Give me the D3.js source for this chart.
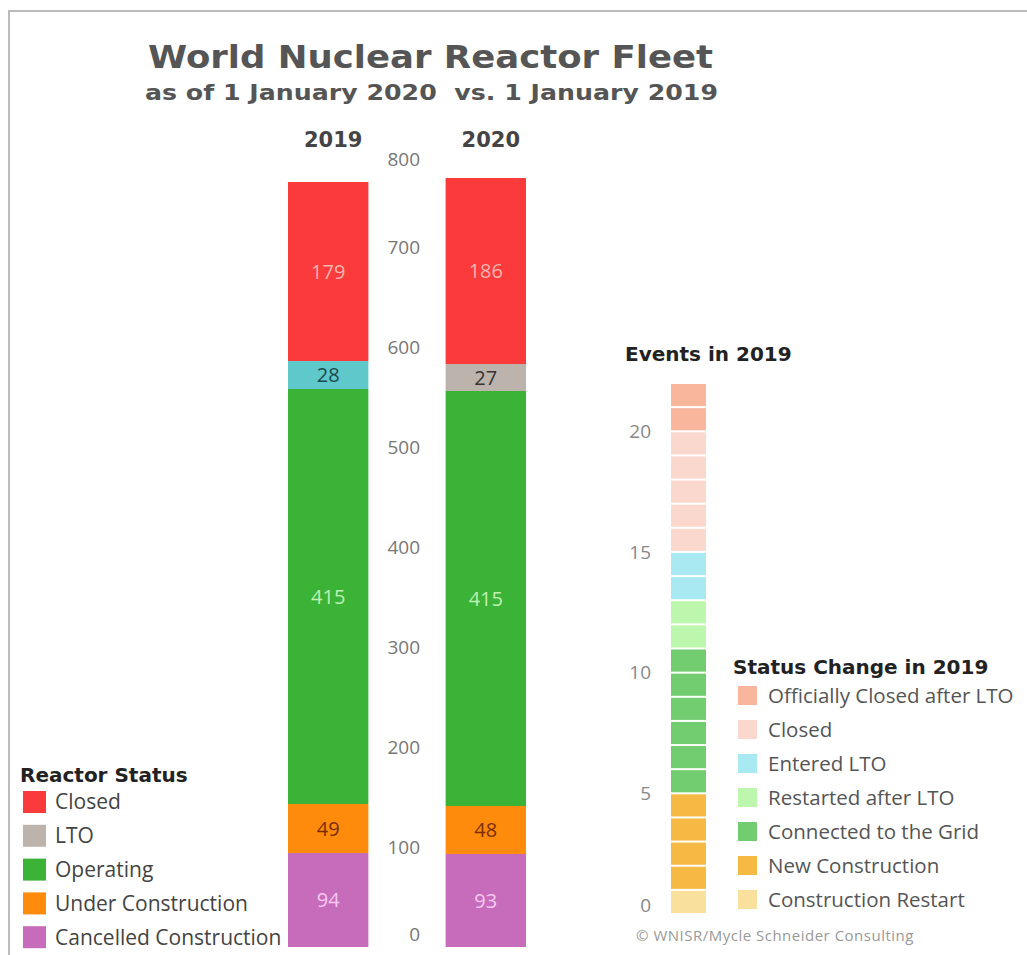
<!DOCTYPE html>
<html>
<head>
<meta charset="utf-8">
<script src="https://cdn.jsdelivr.net/npm/d3@7"></script>
<style>
  body { margin: 0; background: #fff; }
  svg { display: block; }
</style>
</head>
<body>
<svg id="chart" width="1027" height="955"></svg>
<script>
// Reactor fleet data (bottom to top of each stack)
const years = ["2019", "2020"];
const statuses = ["Cancelled Construction", "Under Construction", "Operating", "LTO", "Closed"];
const counts2019 = [94, 49, 415, 28, 179];
const counts2020 = [93, 48, 415, 27, 186];
const fleetTicks = [0, 100, 200, 300, 400, 500, 600, 700, 800];

// Events in 2019 (bottom to top)
const eventTypes = ["Construction Restart", "New Construction", "Connected to the Grid",
  "Restarted after LTO", "Entered LTO", "Closed", "Officially Closed after LTO"];
const eventCounts = [1, 4, 6, 2, 2, 5, 2];
const eventTicks = [0, 5, 10, 15, 20];

const statusColor = {
  "Closed": "#fb3b3b",
  "LTO": "#bdb3ad",
  "Operating": "#3bb336",
  "Under Construction": "#fe8b0c",
  "Cancelled Construction": "#c76cba"
};
const lto2019Color = "#5ec8ca";
const labelColor = {
  "Closed": "#f8b4b0",
  "LTO": "#333",
  "Operating": "#bff0b4",
  "Under Construction": "#7a2e00",
  "Cancelled Construction": "#f6c8f0"
};
const eventColor = {
  "Officially Closed after LTO": "#f9b69d",
  "Closed": "#fad8cd",
  "Entered LTO": "#a9e9f1",
  "Restarted after LTO": "#bdf7ad",
  "Connected to the Grid": "#72cd70",
  "New Construction": "#f6ba44",
  "Construction Restart": "#f9e09c"
};

const svg = d3.select("#chart");

// frame
svg.append("path")
  .attr("d", "M9,955 V11 H1027")
  .attr("fill", "none")
  .attr("stroke", "#bbb")
  .attr("stroke-width", 2);

// titles
svg.append("text")
  .attr("x", 148).attr("y", 68)
  .attr("textLength", 565)
  .attr("lengthAdjust", "spacingAndGlyphs")
  .style("font-family", "DejaVu Sans")
  .style("font-weight", "bold")
  .style("font-size", "32px")
  .attr("fill", "#555")
  .text("World Nuclear Reactor Fleet");

svg.append("text")
  .attr("x", 145).attr("y", 100)
  .attr("textLength", 573)
  .attr("lengthAdjust", "spacingAndGlyphs")
  .style("font-family", "DejaVu Sans")
  .style("font-weight", "bold")
  .style("font-size", "22px")
  .attr("fill", "#555")
  .attr("xml:space", "preserve")
  .text("as of 1 January 2020  vs. 1 January 2019");

// ---- main stacked bars ----
const y = d3.scaleLinear().domain([0, 800]).range([947, 147]);
const x = d3.scaleBand().domain(years).range([288, 526]).paddingInner(0.49);

const rows = years.map((yr, i) => {
  const vals = i === 0 ? counts2019 : counts2020;
  const row = { year: yr };
  statuses.forEach((s, j) => row[s] = vals[j]);
  return row;
});
const series = d3.stack().keys(statuses)(rows);

const bars = svg.append("g");
series.forEach(s => {
  s.forEach(d => {
    const yr = d.data.year;
    const fill = (s.key === "LTO" && yr === "2019") ? lto2019Color : statusColor[s.key];
    bars.append("rect")
      .attr("x", x(yr))
      .attr("width", x.bandwidth())
      .attr("y", y(d[1]))
      .attr("height", y(d[0]) - y(d[1]))
      .attr("fill", fill);
    bars.append("text")
      .attr("x", x(yr) + x.bandwidth() / 2)
      .attr("y", (y(d[0]) + y(d[1])) / 2)
      .attr("dy", "0.36em")
      .attr("text-anchor", "middle")
      .style("font-family", "Open Sans")
      .style("font-size", "20px")
      .attr("fill", (s.key === "LTO" && yr === "2019") ? "#1d4a4c" : labelColor[s.key])
      .text(d[1] - d[0]);
  });
});

// year headers
svg.append("g").selectAll("text")
  .data(years)
  .join("text")
  .attr("x", d => x(d) + x.bandwidth() / 2 + 5)
  .attr("y", 147)
  .attr("text-anchor", "middle")
  .style("font-family", "DejaVu Sans")
  .style("font-weight", "bold")
  .style("font-size", "21px")
  .attr("fill", "#444")
  .text(d => d);

// axis between bars (labels only, ends pulled inward like the original)
const yAxis = svg.append("g")
  .attr("transform", "translate(420,0)")
  .call(d3.axisLeft(y).tickValues(fleetTicks).tickSize(0).tickPadding(0));
yAxis.select(".domain").remove();
yAxis.selectAll("text")
  .style("font-family", "Open Sans")
  .style("font-size", "19px")
  .attr("fill", "#777")
  .attr("dy", d => d === 0 ? "-0.35em" : d === 800 ? "0.95em" : "0.32em");

// left legend
const legend = svg.append("g").attr("transform", "translate(20,0)");
legend.append("text")
  .attr("x", 0).attr("y", 782)
  .style("font-family", "DejaVu Sans")
  .style("font-weight", "bold")
  .style("font-size", "20px")
  .attr("fill", "#222")
  .text("Reactor Status");
const legendOrder = statuses.slice().reverse();
const li = legend.selectAll("g.item")
  .data(legendOrder)
  .join("g")
  .attr("class", "item")
  .attr("transform", (d, i) => `translate(0,${802 + i * 33.8})`);
li.append("rect")
  .attr("x", 3).attr("y", -11)
  .attr("width", 23).attr("height", 22)
  .attr("fill", d => statusColor[d]);
li.append("text")
  .attr("x", 35).attr("dy", "0.35em")
  .style("font-family", "Open Sans")
  .style("font-size", "21px")
  .attr("fill", "#444")
  .text(d => d);

// ---- events in 2019 ----
const ye = d3.scaleLinear().domain([0, 22]).range([914, 383]);
const eventBlocks = [];
let acc = 0;
eventTypes.forEach((t, i) => {
  for (let k = 0; k < eventCounts[i]; k++) {
    eventBlocks.push({ type: t, v0: acc, v1: acc + 1 });
    acc += 1;
  }
});

svg.append("text")
  .attr("x", 625).attr("y", 361)
  .style("font-family", "DejaVu Sans")
  .style("font-weight", "bold")
  .style("font-size", "20px")
  .attr("fill", "#222")
  .text("Events in 2019");

svg.append("g").selectAll("rect")
  .data(eventBlocks)
  .join("rect")
  .attr("x", 671)
  .attr("width", 35)
  .attr("y", d => ye(d.v1) + 1)
  .attr("height", d => ye(d.v0) - ye(d.v1) - 2)
  .attr("fill", d => eventColor[d.type]);

const eAxis = svg.append("g")
  .attr("transform", "translate(651,0)")
  .call(d3.axisLeft(ye).tickValues(eventTicks).tickSize(0).tickPadding(0));
eAxis.select(".domain").remove();
eAxis.selectAll("text")
  .style("font-family", "Open Sans")
  .style("font-size", "19px")
  .attr("fill", "#888")
  .attr("dy", d => d === 0 ? "-0.15em" : "0.32em");

// events legend
const el = svg.append("g").attr("transform", "translate(733,0)");
el.append("text")
  .attr("x", 0).attr("y", 674)
  .style("font-family", "DejaVu Sans")
  .style("font-weight", "bold")
  .style("font-size", "20px")
  .attr("fill", "#222")
  .text("Status Change in 2019");
const ei = el.selectAll("g.item")
  .data(eventTypes.slice().reverse())
  .join("g")
  .attr("class", "item")
  .attr("transform", (d, i) => `translate(0,${696 + i * 34})`);
ei.append("rect")
  .attr("x", 5).attr("y", -10)
  .attr("width", 19).attr("height", 19)
  .attr("fill", d => eventColor[d]);
ei.append("text")
  .attr("x", 35).attr("dy", "0.35em")
  .style("font-family", "Open Sans")
  .style("font-size", "20.5px")
  .attr("fill", "#555")
  .text(d => d);

svg.append("text")
  .attr("x", 636).attr("y", 941)
  .style("font-family", "Open Sans")
  .style("font-size", "15px")
  .style("letter-spacing", "0.5px")
  .attr("fill", "#999")
  .text("© WNISR/Mycle Schneider Consulting");
</script>
</body>
</html>
